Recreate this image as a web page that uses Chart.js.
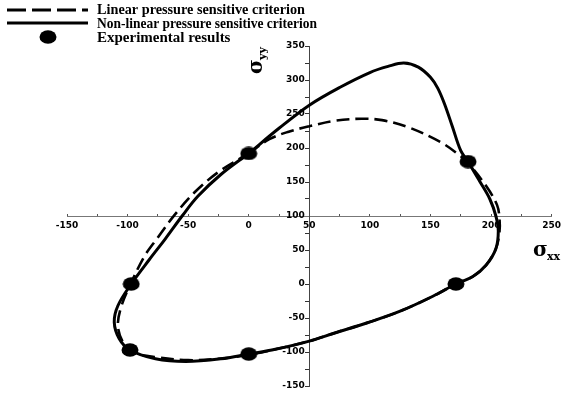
<!DOCTYPE html>
<html>
<head>
<meta charset="utf-8">
<script src="https://cdn.jsdelivr.net/npm/chart.js@4/dist/chart.umd.min.js"></script>
<style>
  html, body { margin: 0; padding: 0; background: #fff; }
  #wrap { width: 568px; height: 395px; position: relative; }
</style>
</head>
<body>
<div id="wrap"><canvas id="grafica"></canvas></div>
<script>
// Datos (MPa)
// criterio no lineal (linea continua)
const noLinealX = [0, 25, 50, 75, 100, 115, 128, 140, 150, 156, 162, 168, 175, 181, 191, 199, 204, 206, 204, 196, 185, 171, 152, 125, 98, 71, 50, 22, 0, -23, -52, -77, -98, -107, -111, -108, -97, -82, -69, -55, -42, -23, 0];
const noLinealY = [192, 229, 263, 289, 311, 320, 325, 319, 304, 288, 263, 232, 196, 180, 150, 125, 100, 78, 52, 28, 11, 0, -18, -40, -57, -72, -84, -96, -103, -110, -114, -110, -97, -80, -56, -32, 0, 36, 66, 100, 129, 161, 192];

// criterio lineal (linea discontinua)
const linealX = [0, 17, 33, 50, 71, 93, 110, 131, 158, 175, 181, 196, 205, 207, 207, 204, 196, 185, 171, 152, 125, 98, 71, 50, 22, 0, -25, -50, -75, -96, -104, -108, -105, -97, -86, -76, -61, -44, -24, 0];
const linealY = [192, 213, 224, 232, 240, 243, 241, 231, 209, 188, 178, 144, 116, 96, 77, 52, 28, 11, 0, -18, -40, -57, -72, -84, -96, -104, -110, -112, -108, -100, -85, -61, -32, 2, 41, 66, 102, 136, 166, 192];

// resultados experimentales
const expX = [0, 181, 171, 0, -98, -97];
const expY = [192, 180, 0, -103, -97, 0];

// textos
const leyendas = ['Linear pressure sensitive criterion', 'Non-linear pressure sensitive criterion', 'Experimental results'];

function puntos(xs, ys) {
    return xs.map((x, i) => ({ x: x, y: ys[i] }));
}

// marcador eliptico
const marcador = document.createElement('canvas');
marcador.width = 18;
marcador.height = 14;
const mctx = marcador.getContext('2d');
mctx.fillStyle = '#000';
mctx.beginPath();
mctx.ellipse(9, 7, 8.5, 6.7, 0, 0, Math.PI * 2);
mctx.fill();

const fuenteTicks = { family: 'DejaVu Sans', size: 9, weight: 'bold' };

// leyenda y titulos de ejes
const extras = {
    id: 'extras',
    afterDraw(chart) {
        const ctx = chart.ctx;
        ctx.save();
        ctx.strokeStyle = '#000';
        ctx.lineWidth = 3;
        ctx.setLineDash([19, 6]);
        ctx.beginPath();
        ctx.moveTo(7, 10);
        ctx.lineTo(88, 10);
        ctx.stroke();
        ctx.setLineDash([]);
        ctx.beginPath();
        ctx.moveTo(7, 23);
        ctx.lineTo(88, 23);
        ctx.stroke();
        ctx.drawImage(marcador, 39, 30);

        ctx.fillStyle = '#000';
        ctx.textBaseline = 'alphabetic';
        ctx.textAlign = 'left';
        ctx.font = 'bold 15px "Liberation Serif"';
        ctx.fillText(leyendas[0], 97, 14, 208);
        ctx.fillText(leyendas[1], 97, 28, 220);
        ctx.fillText(leyendas[2], 97, 42, 148);

        // sigma xx
        ctx.font = 'bold 20px "DejaVu Serif"';
        ctx.fillText('σ', 533, 256);
        ctx.font = 'bold 11px "DejaVu Serif"';
        ctx.fillText('xx', 547, 260);

        // sigma yy (girado)
        ctx.translate(262, 74);
        ctx.rotate(-Math.PI / 2);
        ctx.font = 'bold 20px "DejaVu Serif"';
        ctx.fillText('σ', 0, 0);
        ctx.font = 'bold 11px "DejaVu Serif"';
        ctx.fillText('yy', 14, 4);
        ctx.restore();
    }
};

new Chart(document.getElementById('grafica'), {
    type: 'scatter',
    data: {
        datasets: [
            {
                label: leyendas[2],
                data: puntos(expX, expY),
                pointStyle: marcador,
                pointRadius: 8,
                order: 0
            },
            {
                label: leyendas[1],
                data: puntos(noLinealX, noLinealY),
                showLine: true,
                borderColor: '#000',
                borderWidth: 3,
                pointRadius: 0,
                tension: 0.35,
                order: 1
            },
            {
                label: leyendas[0],
                data: puntos(linealX, linealY),
                showLine: true,
                borderColor: '#000',
                borderWidth: 2.6,
                borderDash: [13, 6],
                pointRadius: 0,
                tension: 0.35,
                order: 2
            }
        ]
    },
    options: {
        responsive: true,
        maintainAspectRatio: false,
        animation: false,
        layout: { padding: { left: 67, right: 8, top: 46, bottom: 7 } },
        plugins: {
            legend: { display: false },
            tooltip: { enabled: false }
        },
        scales: {
            x: {
                type: 'linear',
                min: -150,
                max: 250,
                position: { y: 100 },
                border: { color: '#777', width: 1 },
                grid: { drawOnChartArea: false, tickLength: -3, tickColor: '#555' },
                ticks: {
                    stepSize: 25,
                    autoSkip: false,
                    maxRotation: 0,
                    padding: 7,
                    color: '#000',
                    font: fuenteTicks,
                    callback: v => (v % 50 === 0 ? v : '')
                }
            },
            y: {
                type: 'linear',
                min: -150,
                max: 350,
                position: { x: 50 },
                border: { color: '#444', width: 1 },
                grid: { drawOnChartArea: false, tickLength: 4, tickColor: '#333' },
                ticks: {
                    stepSize: 25,
                    autoSkip: false,
                    color: '#000',
                    font: fuenteTicks,
                    // espacio final para separar la etiqueta del eje
                    callback: v => (v % 50 === 0 ? v + '\u2002' : '')
                }
            }
        }
    },
    plugins: [extras]
});
</script>
</body>
</html>
